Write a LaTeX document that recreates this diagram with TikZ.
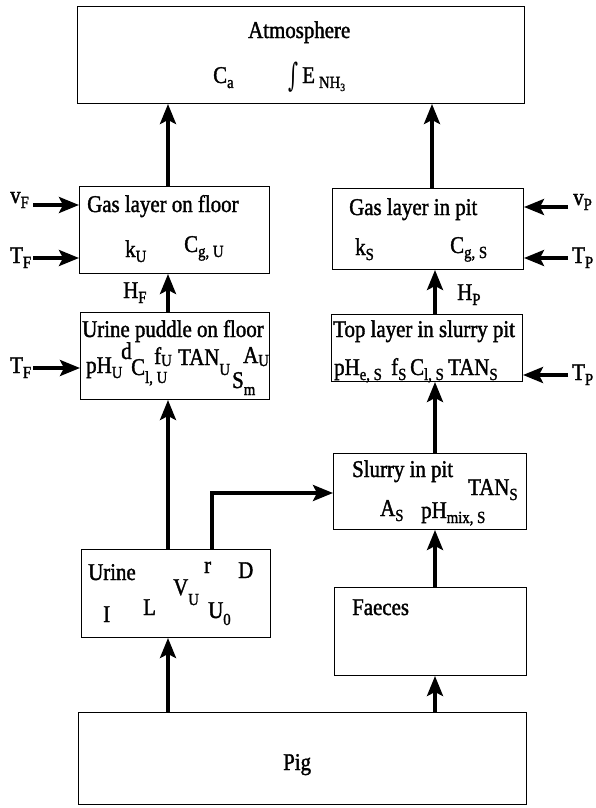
\documentclass[tikz,border=0pt]{standalone}
\usepackage{fontspec}
\setmainfont{Liberation Serif}[FakeStretch=0.87,FakeBold=1.5]
\newfontfamily\symfont{DejaVu Serif}
\usetikzlibrary{arrows.meta,calc}
\newcommand\mainsz{\fontsize{24}{26}\selectfont}
\newcommand\subsz{\fontsize{17}{17}\selectfont}
\newcommand\lw[2][5pt]{\raisebox{-#1}{\subsz #2}}

\begin{document}
\begin{tikzpicture}[x=1pt,y=1pt,
  box/.style={draw, line width=1pt, inner sep=0pt, anchor=north west},
  txt/.style={anchor=base west, inner sep=0pt, font=\mainsz},
  arr/.style={line width=3.5pt, line join=miter,
    -{Stealth[length=20pt,width=16pt,inset=4pt]}},
]
\useasboundingbox (0,0) rectangle (596,-808);

% compartments
\node[box, minimum width=447, minimum height=97] (atm)   at (77,-6)   {};
\node[box, minimum width=190, minimum height=87] (gasF)  at (79,-186) {};
\node[box, minimum width=191, minimum height=81] (gasP)  at (332,-188) {};
\node[box, minimum width=189, minimum height=87] (pud)   at (80,-312) {};
\node[box, minimum width=191, minimum height=67] (top)   at (331,-314) {};
\node[box, minimum width=193, minimum height=76] (slur)  at (333,-453) {};
\node[box, minimum width=189, minimum height=88] (urine) at (81,-549) {};
\node[box, minimum width=192, minimum height=88] (faec)  at (334,-587) {};
\node[box, minimum width=448, minimum height=92] (pig)   at (78,-712) {};

% atmosphere
\node[txt] (tAtm) at (248,-38) {Atmosphere};
\node[txt] (tCa)  at (213,-83) {C\lw{a}};
\node[txt] (tE)   at (288,-83) {\raisebox{-3pt}{\scalebox{0.8}[1.35]{\symfont ∫}}\,E\,\lw{NH\raisebox{-3pt}{\fontsize{11}{11}\selectfont 3}}};

% gas layer on floor
\node[txt] (tGF)  at (87,-212)  {Gas layer on floor};
\node[txt] (tkU)  at (125,-257) {k\lw{U}};
\node[txt] (tCgU) at (184,-252) {C\lw{g, U}};

% gas layer in pit
\node[txt] (tGP)  at (349,-215) {Gas layer in pit};
\node[txt] (tkS)  at (355,-255) {k\lw{S}};
\node[txt] (tCgS) at (450,-253) {C\lw{g, S}};

% heat transfer labels
\node[txt] (tHF) at (123,-298) {H\lw{F}};
\node[txt] (tHP) at (457,-300) {H\lw{P}};

% urine puddle on floor
\node[txt] (tUP)  at (82,-337)  {Urine puddle on floor};
\node[txt] (tpHU) at (86,-373)  {pH\lw{U}};
\node[txt] (td)   at (121,-359) {d};
\node[txt] (tClU) at (131,-375) {C\lw[8pt]{l, U}};
\node[txt] (tfU)  at (154,-364) {f\lw[2pt]{U}};
\node[txt] (tTU)  at (178,-365) {TAN\lw[10pt]{U}};
\node[txt] (tAU)  at (243,-363) {A\lw[3pt]{U}};
\node[txt] (tSm)  at (232,-388) {S\lw[7pt]{m}};

% top layer in slurry pit
\node[txt] (tTL)  at (333,-337) {Top layer in slurry pit};
\node[txt] (tpHe) at (334,-375) {pH\lw{e, S}};
\node[txt] (tfS)  at (391,-375) {f\lw{S}};
\node[txt] (tClS) at (410,-375) {C\lw{l, S}};
\node[txt] (tTS)  at (448,-375) {TAN\lw{S}};

% slurry in pit
\node[txt] (tSl)  at (352,-477) {Slurry in pit};
\node[txt] (tTS2) at (468,-495) {TAN\lw{S}};
\node[txt] (tAS)  at (380,-516) {A\lw{S}};
\node[txt] (tpHm) at (421,-518) {pH\lw{mix, S}};

% urine
\node[txt] (tUr)  at (88,-580)  {Urine};
\node[txt] (tr)   at (204,-573) {r};
\node[txt] (tD)   at (238,-578) {D};
\node[txt] (tVU)  at (173,-595) {V\lw[10pt]{U}};
\node[txt] (tL)   at (143,-615) {L};
\node[txt] (tI)   at (103,-622) {I};
\node[txt] (tU0)  at (208,-618) {U\lw[7pt]{0}};

% faeces and pig
\node[txt] (tFa)  at (352,-615) {Faeces};
\node[txt] (tPig) at (283,-770) {Pig};

% driving-variable labels
\node[txt] (tvF)  at (10,-203)  {v\lw{F}};
\node[txt] (tTF1) at (10,-263)  {T\lw{F}};
\node[txt] (tTF2) at (10,-373)  {T\lw{F}};
\node[txt] (tvP)  at (573,-205) {v\lw{P}};
\node[txt] (tTP1) at (572,-263) {T\lw{P}};
\node[txt] (tTP2) at (572,-380) {T\lw{P}};

% flow columns
\coordinate (xL)  at (168,0);
\coordinate (xR)  at (435,0);
\coordinate (xR2) at (432,0);
\coordinate (xE)  at (212,0);
\coordinate (yE)  at (0,-493);

\draw[arr] (pig.north -| xL)   -- (urine.south -| xL);
\draw[arr] (pig.north -| xR)   -- (faec.south -| xR);
\draw[arr] (faec.north -| xR)  -- (slur.south -| xR);
\draw[arr] (urine.north -| xL) -- (pud.south -| xL);
\draw[arr] (urine.north -| xE) |- (slur.west |- yE);
\draw[arr] (slur.north -| xR)  -- (top.south -| xR);
\draw[arr] (pud.north -| xL)   -- (gasF.south -| xL);
\draw[arr] (top.north -| xR)   -- (gasP.south -| xR);
\draw[arr] (gasF.north -| xL)  -- (atm.south -| xL);
\draw[arr] (gasP.north -| xR2) -- (atm.south -| xR2);

% external inputs
\coordinate (vF)  at (33,-205);
\coordinate (TF1) at (33,-258);
\coordinate (TF2) at (33,-368);
\coordinate (vP)  at (568,-207);
\coordinate (TP1) at (568,-258);
\coordinate (TP2) at (568,-375);
\draw[arr] (vF)  -- (vF -| gasF.west);
\draw[arr] (TF1) -- (TF1 -| gasF.west);
\draw[arr] (TF2) -- (TF2 -| pud.west);
\draw[arr] (vP)  -- (vP -| gasP.east);
\draw[arr] (TP1) -- (TP1 -| gasP.east);
\draw[arr] (TP2) -- (TP2 -| top.east);
\end{tikzpicture}
\end{document}
